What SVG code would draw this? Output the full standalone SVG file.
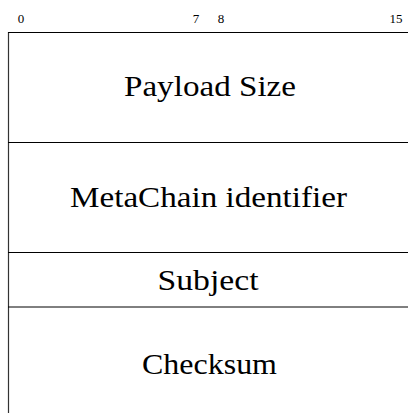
<svg xmlns="http://www.w3.org/2000/svg" width="408" height="413" viewBox="0 0 408 413">
  <style>
    .bit { font-family: "Liberation Serif", "DejaVu Serif", "Noto Serif", serif; font-size: 13px; fill: #000; text-anchor: middle; }
    .field { font-family: "Liberation Serif", "DejaVu Serif", "Noto Serif", serif; font-size: 30px; fill: #000; text-anchor: middle; }
    .rule { stroke: #000; stroke-width: 1; fill: none; }
    .edge { stroke: #333; stroke-width: 1.2; fill: none; }
  </style>
  <rect width="408" height="413" fill="#fff"/>

  <!-- bit numbering above the word, 25px per bit -->
  <g id="bit-labels">
    <text class="bit" x="21" y="23">0</text>
    <text class="bit" x="196" y="23">7</text>
    <text class="bit" x="221" y="23">8</text>
    <text class="bit" x="396" y="23">15</text>
  </g>

  <!-- frame rules -->
  <g id="rules">
    <line class="edge" x1="8.5" y1="32" x2="8.5" y2="413"/>
    <line class="rule" x1="8" y1="32.5" x2="408" y2="32.5"/>
    <line class="rule" x1="8" y1="142.5" x2="408" y2="142.5"/>
    <line class="rule" x1="8" y1="252.5" x2="408" y2="252.5"/>
    <line class="rule" x1="8" y1="307" x2="408" y2="307"/>
  </g>

  <g id="payload-size">
    <text class="field" x="210" y="96" textLength="172" lengthAdjust="spacingAndGlyphs">Payload Size</text>
  </g>
  <g id="metachain-identifier">
    <text class="field" x="208.5" y="207" textLength="277" lengthAdjust="spacingAndGlyphs">MetaChain identifier</text>
  </g>
  <g id="subject">
    <text class="field" x="208" y="290" textLength="101" lengthAdjust="spacingAndGlyphs">Subject</text>
  </g>
  <g id="checksum">
    <text class="field" x="209.5" y="374" textLength="135" lengthAdjust="spacingAndGlyphs">Checksum</text>
  </g>
</svg>
